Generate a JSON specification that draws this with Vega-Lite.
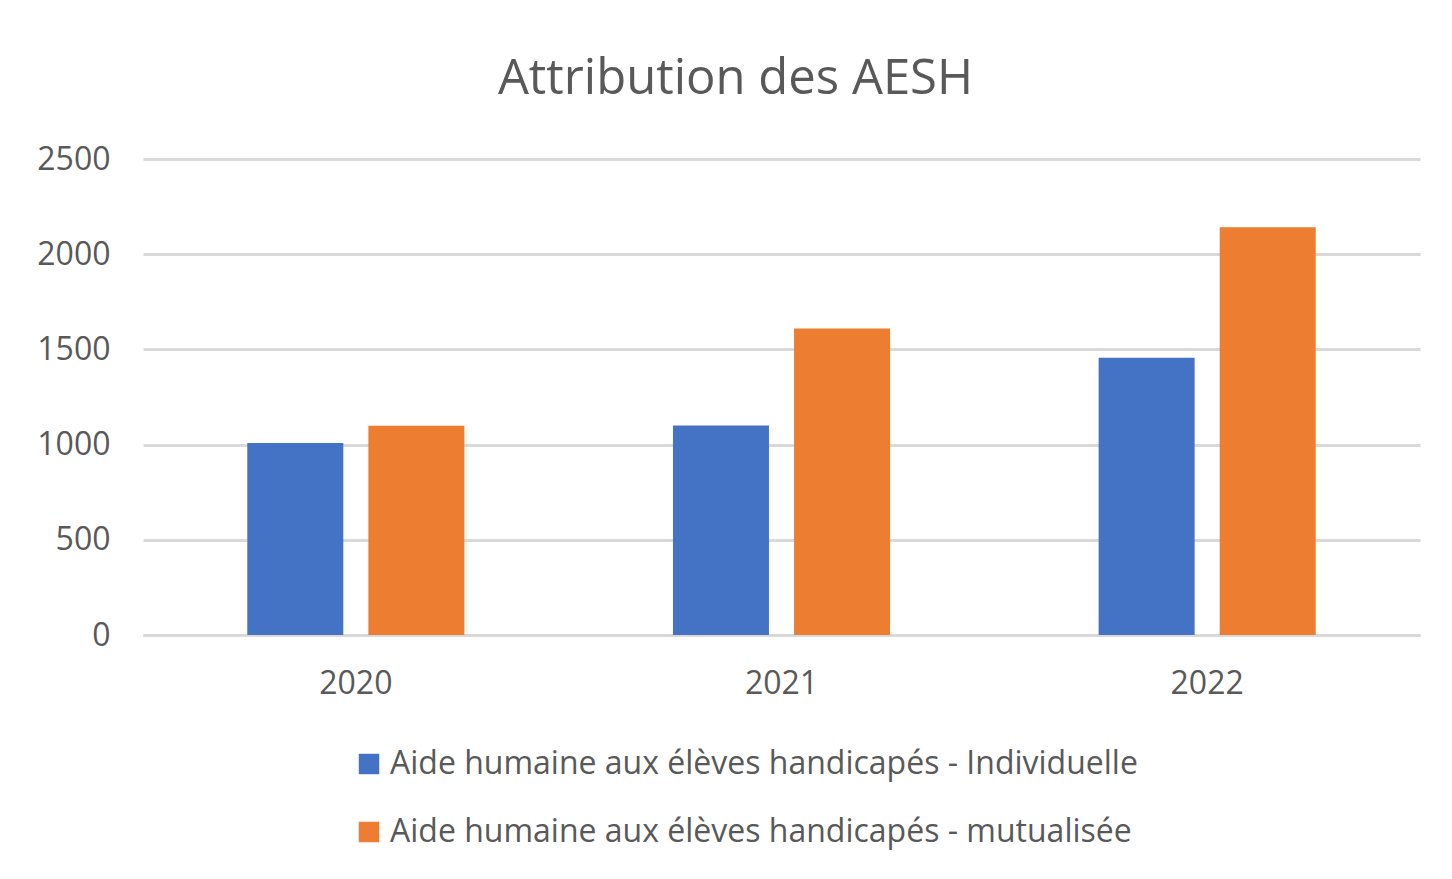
{
  "$schema": "https://vega.github.io/schema/vega-lite/v6.json",
  "autosize": {"type": "none"},
  "width": 1277,
  "height": 476,
  "padding": {"left": 143, "top": 159, "right": 32, "bottom": 244},
  "background": "white",
  "title": {
    "text": "Attribution des AESH",
    "font": "Open Sans",
    "fontSize": 49,
    "fontWeight": "normal",
    "color": "#595959",
    "anchor": "middle",
    "frame": "group",
    "dx": -46,
    "offset": 39
  },
  "data": {
    "values": [
      {"annee": "2020", "type": "Aide humaine aux élèves handicapés - Individuelle", "valeur": 1008},
      {"annee": "2020", "type": "Aide humaine aux élèves handicapés - mutualisée", "valeur": 1099},
      {"annee": "2021", "type": "Aide humaine aux élèves handicapés - Individuelle", "valeur": 1100},
      {"annee": "2021", "type": "Aide humaine aux élèves handicapés - mutualisée", "valeur": 1610},
      {"annee": "2022", "type": "Aide humaine aux élèves handicapés - Individuelle", "valeur": 1456},
      {"annee": "2022", "type": "Aide humaine aux élèves handicapés - mutualisée", "valeur": 2141}
    ]
  },
  "mark": {"type": "bar"},
  "encoding": {
    "x": {
      "field": "annee",
      "type": "nominal",
      "scale": {"paddingInner": 0.49, "paddingOuter": 0.245},
      "axis": {
        "title": null,
        "labelAngle": 0,
        "labelFont": "Open Sans",
        "labelFontSize": 32,
        "labelColor": "#595959",
        "labelPadding": 33,
        "ticks": false,
        "tickSize": 0,
        "domainColor": "#d9d9d9",
        "domainWidth": 3,
        "grid": false
      }
    },
    "xOffset": {
      "field": "type",
      "type": "nominal",
      "scale": {"paddingInner": 0.207, "paddingOuter": 0}
    },
    "y": {
      "field": "valeur",
      "type": "quantitative",
      "scale": {"domain": [0, 2500], "nice": false},
      "axis": {
        "title": null,
        "values": [0, 500, 1000, 1500, 2000, 2500],
        "format": "d",
        "labelFont": "Open Sans",
        "labelFontSize": 32,
        "labelColor": "#595959",
        "labelPadding": 33,
        "ticks": false,
        "tickSize": 0,
        "domain": false,
        "grid": true,
        "gridColor": "#d9d9d9",
        "gridWidth": 3
      }
    },
    "color": {
      "field": "type",
      "type": "nominal",
      "scale": {"range": ["#4472C4", "#ED7D31"]},
      "legend": {
        "title": null,
        "orient": "none",
        "legendX": 210,
        "legendY": 589,
        "direction": "vertical",
        "symbolType": "square",
        "symbolSize": 420,
        "symbolStrokeWidth": 0,
        "labelFont": "Open Sans",
        "labelFontSize": 32,
        "labelColor": "#595959",
        "labelOffset": 5,
        "rowPadding": 36,
        "labelLimit": 1000
      }
    }
  },
  "config": {
    "view": {"stroke": null}
  }
}
